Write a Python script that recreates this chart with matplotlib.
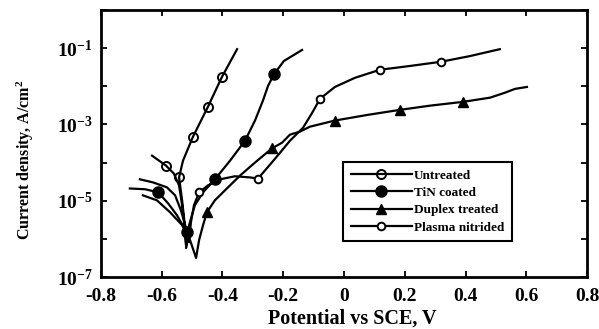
import numpy as np
import matplotlib
matplotlib.use('Agg')
import matplotlib.pyplot as plt

plt.rcParams['font.family'] = 'Liberation Serif'
plt.rcParams['font.weight'] = 'bold'
plt.rcParams['mathtext.fontset'] = 'custom'
plt.rcParams['mathtext.rm'] = 'Liberation Serif:bold'
plt.rcParams['mathtext.it'] = 'Liberation Serif:bold'
plt.rcParams['mathtext.bf'] = 'Liberation Serif:bold'

# potential (V vs SCE) and log10 current density (A/cm2)
untreated_e = [-0.632, -0.586, -0.560, -0.543, -0.533, -0.523, -0.520, -0.523, -0.533,
               -0.543, -0.530, -0.497, -0.448, -0.402, -0.352]
untreated_logi = [-3.82, -4.08, -4.29, -4.60, -5.12, -5.77, -6.17, -5.72, -4.99,
                  -4.39, -3.95, -3.32, -2.54, -1.76, -1.03]
untreated_marks = [1, 9, 11, 12, 13]

tin_e = [-0.705, -0.655, -0.612, -0.579, -0.550, -0.527, -0.517, -0.520, -0.510, -0.491,
         -0.464, -0.425, -0.375, -0.326, -0.293, -0.267, -0.250, -0.230, -0.198, -0.138]
tin_logi = [-4.68, -4.70, -4.78, -5.07, -5.38, -5.70, -5.83, -6.24, -5.64, -5.12,
            -4.78, -4.44, -3.95, -3.43, -2.90, -2.38, -1.99, -1.68, -1.34, -1.05]
tin_marks = [2, 6, 11, 13, 17]

duplex_e = [-0.662, -0.616, -0.573, -0.533, -0.507, -0.487, -0.477, -0.464, -0.451,
            -0.425, -0.392, -0.342, -0.293, -0.237, -0.204, -0.178, -0.145, -0.112,
            -0.030, 0.079, 0.184, 0.283, 0.392, 0.481, 0.530, 0.563, 0.602]
duplex_logi = [-4.86, -4.99, -5.30, -5.64, -6.03, -6.50, -6.03, -5.64, -5.30,
               -4.99, -4.73, -4.34, -4.00, -3.63, -3.48, -3.27, -3.19, -3.06,
               -2.90, -2.75, -2.62, -2.51, -2.41, -2.30, -2.17, -2.07, -2.02]
duplex_marks = [8, 13, 18, 20, 22]

nitrided_e = [-0.672, -0.629, -0.583, -0.556, -0.537, -0.520, -0.510, -0.504, -0.494,
              -0.477, -0.448, -0.408, -0.359, -0.310, -0.283, -0.227, -0.178, -0.135,
              -0.105, -0.079, -0.030, 0.036, 0.118, 0.217, 0.319, 0.415, 0.513]
nitrided_logi = [-4.44, -4.52, -4.65, -4.86, -5.25, -5.72, -6.09, -5.57, -5.12,
                 -4.78, -4.60, -4.44, -4.36, -4.39, -4.42, -3.90, -3.43, -3.09,
                 -2.70, -2.33, -2.02, -1.78, -1.57, -1.47, -1.36, -1.21, -1.03]
nitrided_marks = [9, 14, 19, 22, 24]

x_ticks = [-0.8, -0.6, -0.4, -0.2, 0, 0.2, 0.4, 0.6, 0.8]
x_labels = ['-0.8', '-0.6', '-0.4', '-0.2', '0', '0.2', '0.4', '0.6', '0.8']
y_ticks = [1e-7, 1e-6, 1e-5, 1e-4, 1e-3, 1e-2, 1e-1, 1e0]
y_labels = [r'$10^{-7}$', '', r'$10^{-5}$', '', r'$10^{-3}$', '', r'$10^{-1}$', '']

fig = plt.figure(figsize=(5.99, 3.29), dpi=100)
ax = fig.add_axes([0.1686, 0.158, 0.8114, 0.812])

ax.plot(untreated_e, 10 ** np.array(untreated_logi), 'k-', lw=1.6,
        marker='o', ms=6.5, mfc='none', mew=1.4, markevery=untreated_marks,
        label='Untreated')
ax.plot(tin_e, 10 ** np.array(tin_logi), 'k-', lw=1.6,
        marker='o', ms=8, mfc='k', markevery=tin_marks, label='TiN coated')
ax.plot(duplex_e, 10 ** np.array(duplex_logi), 'k-', lw=1.6,
        marker='^', ms=7, mfc='k', markevery=duplex_marks, label='Duplex treated')
ax.plot(nitrided_e, 10 ** np.array(nitrided_logi), 'k-', lw=1.6,
        marker='o', ms=5.5, mfc='white', mew=1.4, markevery=nitrided_marks,
        label='Plasma nitrided')

ax.set_yscale('log')
ax.set_xlim(-0.8, 0.8)
ax.set_ylim(1e-7, 1e0)
ax.set_xticks(x_ticks)
ax.set_xticklabels(x_labels)
ax.set_yticks(y_ticks)
ax.set_yticklabels(y_labels)
ax.minorticks_off()
ax.tick_params(direction='in', top=True, right=True, length=4, width=1.3,
               labelsize=14)
ax.tick_params(axis='x', pad=8)
ax.tick_params(axis='y', pad=6)
for s in ax.spines.values():
    s.set_linewidth(2)

ax.set_xlabel('Potential vs SCE, V', fontsize=14.5, fontweight='bold', va='top')
ax.xaxis.set_label_coords(0.516, -0.118)
ax.set_ylabel(r'Current density, A/cm$^2$', fontsize=11.5, fontweight='bold')
ax.yaxis.set_label_coords(-0.133, 0.44)

leg = ax.legend(loc='upper left', bbox_to_anchor=(0.498, 0.432), fontsize=9.5,
                handlelength=4.6, fancybox=False, edgecolor='k', framealpha=1,
                borderpad=0.6, labelspacing=0.38, handletextpad=0.15,
                borderaxespad=0)
leg.get_frame().set_linewidth(1.5)

fig.savefig('out.png', dpi=100)
